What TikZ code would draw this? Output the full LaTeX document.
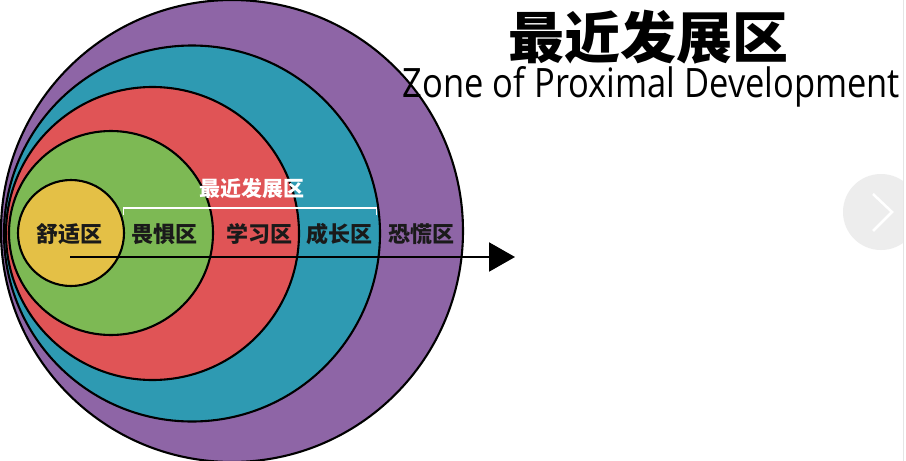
\documentclass[tikz,border=0pt]{standalone}
\usepackage{fontspec}
\setmainfont{Open Sans}
\newfontfamily\cjk{Noto Sans CJK SC}
\usetikzlibrary{arrows.meta}
\definecolor{zpurple}{RGB}{142,101,166}
\definecolor{zteal}{RGB}{46,154,178}
\definecolor{zred}{RGB}{224,84,86}
\definecolor{zgreen}{RGB}{125,185,84}
\definecolor{zyellow}{RGB}{228,192,70}
\definecolor{ztext}{RGB}{26,26,26}
\tikzset{
  zone/.style={draw=black, line width=2.1pt},
  zlabel/.style={font=\cjk\bfseries\fontsize{22}{22}\selectfont, text=ztext, inner sep=0pt},
}
\begin{document}
\begin{tikzpicture}[x=1pt,y=-1pt]
\useasboundingbox (0,0) rectangle (906,461);
\fill[white] (0,0) rectangle (906,461);
\begin{scope}
\clip (0,0) rectangle (906,461);
% nested circles
\filldraw[zone, fill=zpurple] (232,231) circle (231);
\filldraw[zone, fill=zteal] (192,233.5) circle (188);
\filldraw[zone, fill=zred] (152.5,233.5) circle (146.5);
\filldraw[zone, fill=zgreen] (111,233) circle (102);
\filldraw[zone, fill=zyellow] (71,233) circle (53);
% right navigation element
\begin{scope}
\clip (800,150) rectangle (903,280);
\fill[black!7] (881,212) circle (38);
\end{scope}
\draw[white, line width=2.5pt] (873,194) -- (892,212) -- (873,231);
\draw[black!10, line width=1pt] (903.5,0) -- (903.5,461);
\end{scope}
% axis arrow
\coordinate (astart) at (70,257);
\coordinate (aend) at (515,257);
\draw[line width=2.2pt, -{Triangle[length=26pt,width=29pt]}] (astart) -- (aend);
% zone labels
\node[zlabel] (comfort) at (69,234) {舒适区};
\node[zlabel] (fear) at (164,234) {畏惧区};
\node[zlabel] (learn) at (259,234) {学习区};
\node[zlabel] (grow) at (339,234) {成长区};
\node[zlabel] (panic) at (421,234) {恐慌区};
% bracket and ZPD label
\node[font=\cjk\bfseries\fontsize{21}{21}\selectfont, text=white, inner sep=0pt] (zpd) at (252,189) {最近发展区};
\coordinate (bl) at (123.5,215);
\coordinate (br) at (376.5,215);
\draw[white, line width=1.8pt] (bl) -- ++(0,-7) -| (br);
% title
\node[font=\cjk\bfseries\fontsize{56}{56}\selectfont, text=black, inner sep=0pt] (title) at (648,37) {最近发展区};
\node[font=\fontsize{40.5}{40.5}\selectfont, text=black, inner sep=0pt, anchor=base] (subtitle) at (651.5,97) {\resizebox{497pt}{\height}{Zone of Proximal Development}};
\end{tikzpicture}
\end{document}
